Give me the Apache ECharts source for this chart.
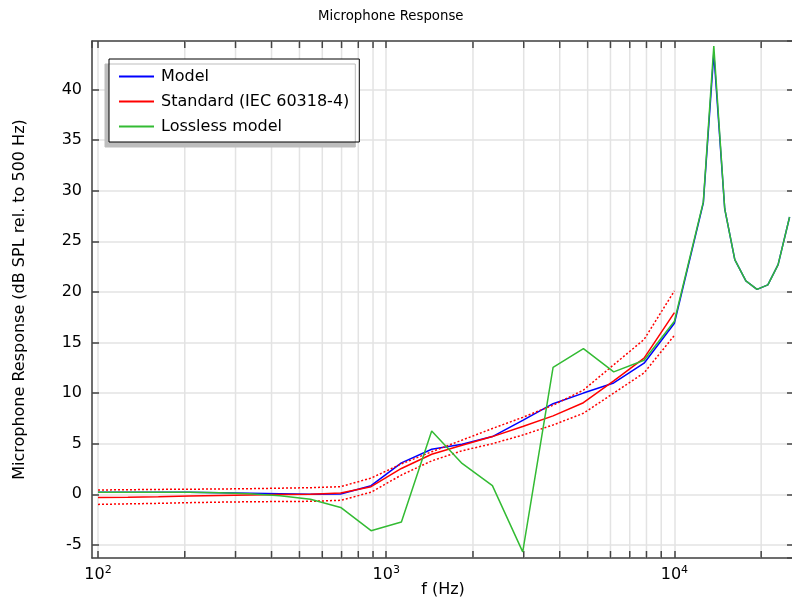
<!DOCTYPE html>
<html>
<head>
<meta charset="utf-8">
<title>Microphone Response</title>
<script src="https://cdn.jsdelivr.net/npm/echarts@6/dist/echarts.min.js"></script>
<style>
  html, body { margin: 0; padding: 0; background: #fff; }
  #chart { width: 792px; height: 600px; }
</style>
</head>
<body>
<div id="chart"></div>
<script>
// frequencies (Hz) of the simulated points
const freqs = [100, 127, 162, 207, 264, 336, 428, 546, 695, 886, 1129, 1438, 1833, 2336, 2976,
  3793, 4833, 6158, 7848, 10000, 12600, 13700, 14950, 16200, 17700, 19350, 21100, 22900, 25100]
const modelDb = [0.2, 0.2, 0.2, 0.2, 0.15, 0.1, 0.05, 0.0, 0.03, 0.85, 3.1, 4.45, 4.95, 5.7, 7.3,
  8.95, 10.0, 11.0, 12.95, 16.9, 28.8, 43.6, 28.2, 23.2, 21.1, 20.25, 20.7, 22.7, 27.4]
const losslessDb = [0.2, 0.2, 0.2, 0.2, 0.15, 0.05, -0.15, -0.5, -1.3, -3.6, -2.75, 6.25, 3.05, 0.85, -5.7,
  12.55, 14.4, 12.1, 13.25, 17.1, 28.9, 44.3, 28.2, 23.2, 21.1, 20.25, 20.7, 22.7, 27.4]

// IEC 60318-4 curve and its tolerance limits
const stdFreqs = [100, 127, 162, 207, 264, 336, 428, 546, 695, 886, 1129, 1438, 1833, 2336, 2976,
  3793, 4833, 6158, 7848, 10000]
const stdDb = [-0.33, -0.3, -0.25, -0.17, -0.12, -0.08, -0.03, 0.0, 0.12, 0.75, 2.55, 3.95, 4.85, 5.7, 6.7,
  7.75, 9.05, 11.2, 13.45, 17.95]
const stdUpper = [0.42, 0.45, 0.48, 0.5, 0.52, 0.55, 0.6, 0.65, 0.75, 1.6, 3.0, 4.2, 5.35, 6.5, 7.6,
  8.8, 10.3, 12.8, 15.3, 20.1]
const stdLower = [-1.0, -0.95, -0.9, -0.83, -0.78, -0.74, -0.72, -0.7, -0.6, 0.2, 1.9, 3.3, 4.3, 5.0, 5.85,
  6.85, 8.0, 10.0, 12.0, 15.7]

// minor log ticks (with grid lines)
const minorTicks = [200, 300, 400, 500, 600, 700, 800, 900,
  2000, 3000, 4000, 5000, 6000, 7000, 8000, 9000, 20000]

const font = 'DejaVu Sans'
const axisColor = '#444'
const gridColor = '#e3e3e3'
const xMin = 95.3, xMax = 26000
const yMin = -6.3, yMax = 44.8

function pairs(xs, ys) {
  return xs.map((x, i) => [x, ys[i]])
}

function powerLabel(v) {
  const lg = Math.log10(v)
  const e = Math.round(lg)
  if (Math.abs(lg - e) > 1e-6) return ''
  return '{b|10}{s|' + e + '}'
}

const chart = echarts.init(document.getElementById('chart'))

const baseX = {
  type: 'log',
  logBase: 10,
  min: xMin,
  max: xMax,
  axisLine: { show: true, onZero: false, lineStyle: { color: axisColor, width: 1.5 } },
  axisTick: { show: true, inside: true, length: 7, lineStyle: { color: axisColor, width: 1.5 } }
}
const baseY = {
  type: 'value',
  min: yMin,
  max: yMax,
  splitNumber: 10,
  axisLine: { show: true, onZero: false, lineStyle: { color: axisColor, width: 1.5 } },
  axisTick: { show: true, inside: true, length: 7, lineStyle: { color: axisColor, width: 1.5 } }
}

chart.setOption({
  animation: false,
  backgroundColor: '#fff',
  textStyle: { fontFamily: font },
  title: {
    text: 'Microphone Response',
    left: 313,
    top: 5,
    textStyle: { fontFamily: font, fontSize: 13.3, fontWeight: 'normal', color: '#000' }
  },
  grid: { left: 92, top: 41, right: -2, bottom: 42, containLabel: false, outerBoundsMode: 'none' },
  legend: {
    data: ['Model', 'Standard (IEC 60318-4)', 'Lossless model'],
    orient: 'vertical',
    left: 109,
    top: 59,
    padding: [9, 10, 7, 10],
    itemGap: 8,
    itemWidth: 35,
    itemHeight: 2,
    icon: 'rect',
    backgroundColor: '#fff',
    borderColor: '#000',
    borderWidth: 1,
    borderRadius: 0,
    shadowColor: '#bdbdbd',
    shadowBlur: 0,
    shadowOffsetX: -4,
    shadowOffsetY: 5,
    textStyle: { fontFamily: font, fontSize: 16, color: '#000', lineHeight: 17, padding: [0, 0, 0, 2] }
  },
  xAxis: [
    Object.assign({}, baseX, {
      position: 'bottom',
      name: 'f (Hz)',
      nameLocation: 'middle',
      nameGap: 24,
      nameMoveOverlap: false,
      nameTextStyle: { fontFamily: font, fontSize: 16, color: '#000' },
      axisLabel: {
        margin: 7,
        showMinLabel: false,
        showMaxLabel: false,
        formatter: powerLabel,
        rich: {
          b: { fontFamily: font, fontSize: 16, color: '#000', lineHeight: 20 },
          s: { fontFamily: font, fontSize: 11, color: '#000', verticalAlign: 'top', lineHeight: 12 }
        }
      },
      splitLine: { show: true, lineStyle: { color: gridColor, width: 1.5 } }
    }),
    Object.assign({}, baseX, {
      position: 'top',
      axisLabel: { show: false },
      splitLine: { show: false }
    })
  ],
  yAxis: [
    Object.assign({}, baseY, {
      position: 'left',
      name: 'Microphone Response (dB SPL rel. to 500 Hz)',
      nameLocation: 'middle',
      nameGap: 64,
      nameMoveOverlap: false,
      nameTextStyle: { fontFamily: font, fontSize: 16, color: '#000' },
      axisLabel: {
        margin: 10,
        showMinLabel: false,
        showMaxLabel: false,
        fontFamily: font,
        fontSize: 16,
        color: '#000'
      },
      splitLine: { show: true, lineStyle: { color: gridColor, width: 1.5 } }
    }),
    Object.assign({}, baseY, {
      position: 'right',
      axisLabel: { show: false },
      splitLine: { show: false }
    })
  ],
  series: [
    {
      name: 'minor grid',
      type: 'custom',
      z: 1,
      silent: true,
      xAxisIndex: 0,
      yAxisIndex: 0,
      data: minorTicks.map(f => [f, 0]),
      encode: { x: 0, y: 1 },
      renderItem: function (params, api) {
        const x = api.coord([api.value(0), 0])[0]
        const cs = params.coordSys
        const top = cs.y
        const bottom = cs.y + cs.height
        return {
          type: 'group',
          children: [
            { type: 'line', shape: { x1: x, y1: top, x2: x, y2: bottom }, style: { stroke: gridColor, lineWidth: 1.5 } },
            { type: 'line', shape: { x1: x, y1: bottom, x2: x, y2: bottom - 7 }, style: { stroke: axisColor, lineWidth: 1.5 } },
            { type: 'line', shape: { x1: x, y1: top, x2: x, y2: top + 7 }, style: { stroke: axisColor, lineWidth: 1.5 } }
          ]
        }
      }
    },
    {
      name: 'Model',
      type: 'line',
      symbol: 'none',
      color: '#0000ff',
      lineStyle: { width: 1.5 },
      data: pairs(freqs, modelDb)
    },
    {
      name: 'Standard upper',
      type: 'line',
      symbol: 'none',
      color: '#ff0000',
      lineStyle: { width: 1.5, type: [2, 2] },
      data: pairs(stdFreqs, stdUpper)
    },
    {
      name: 'Standard lower',
      type: 'line',
      symbol: 'none',
      color: '#ff0000',
      lineStyle: { width: 1.5, type: [2, 2] },
      data: pairs(stdFreqs, stdLower)
    },
    {
      name: 'Standard (IEC 60318-4)',
      type: 'line',
      symbol: 'none',
      color: '#ff0000',
      lineStyle: { width: 1.5 },
      data: pairs(stdFreqs, stdDb)
    },
    {
      name: 'Lossless model',
      type: 'line',
      symbol: 'none',
      color: '#33bb33',
      lineStyle: { width: 1.5 },
      data: pairs(freqs, losslessDb)
    }
  ]
})
</script>
</body>
</html>
